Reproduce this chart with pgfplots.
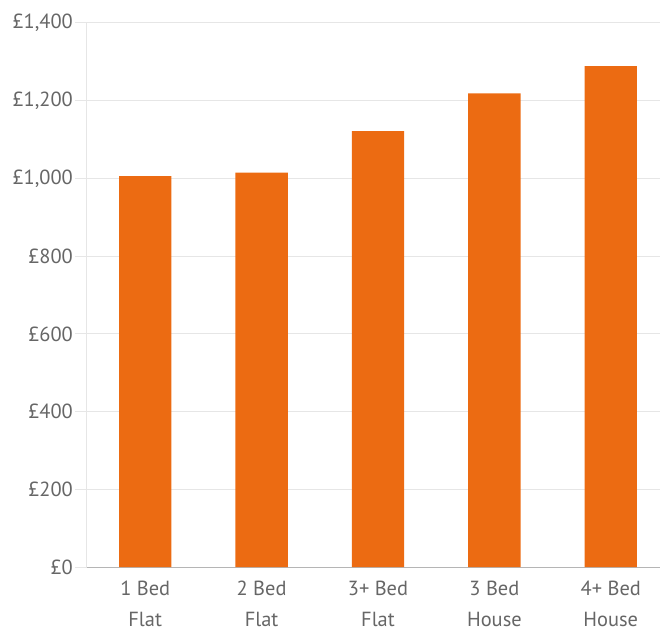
\documentclass[border=0pt]{standalone}
\usepackage{fontspec}
\setmainfont{PT Sans}
\usepackage{pgfplots}
\pgfplotsset{compat=1.18}
\definecolor{barorange}{HTML}{EC6B12}
\definecolor{gridgray}{HTML}{E6E6E6}
\definecolor{axisgray}{HTML}{B5B5B5}
\definecolor{labelgray}{HTML}{666666}
\begin{document}
\begin{tikzpicture}
\begin{axis}[
    scale only axis,
    width=582bp, height=544bp,
    ymin=0, ymax=1400,
    ytick={0,200,...,1400},
    xmin=-0.5, xmax=4.5,
    xtick={0,1,2,3,4},
    xticklabels={{1 Bed\\Flat},{2 Bed\\Flat},{3+ Bed\\Flat},{3 Bed\\House},{4+ Bed\\House}},
    axis x line*=bottom,
    axis y line*=left,
    x axis line style={draw=axisgray, line width=1bp},
    y axis line style={draw=gridgray, line width=1bp},
    ymajorgrids,
    grid style={draw=gridgray, line width=1bp},
    major x tick style={draw=none},
    major y tick style={draw=gridgray, line width=1bp},
    tick align=outside,
    major tick length=12bp,
    /pgf/number format/assume math mode=true,
    /pgf/number format/1000 sep={,},
    yticklabel={£\pgfmathprintnumber{\tick}},
    yticklabel style={font=\fontsize{20.5}{22}\selectfont, text=labelgray, inner xsep=2bp},
    xticklabel style={font=\fontsize{20.5}{31}\selectfont, text=labelgray, align=center, inner ysep=2bp},
    ybar, bar width=0.45,
    clip=false,
]
\addplot[fill=barorange, draw=none] coordinates {
    (0,1006) (1,1015) (2,1122) (3,1219) (4,1289)
};
\coordinate (bl) at (rel axis cs:0,0);
\coordinate (tr) at (rel axis cs:0,1);
\end{axis}
\pgfresetboundingbox
\path[use as bounding box] ([xshift=-87bp,yshift=-63bp]bl) rectangle ([xshift=573bp,yshift=23bp]tr);
\end{tikzpicture}
\end{document}
